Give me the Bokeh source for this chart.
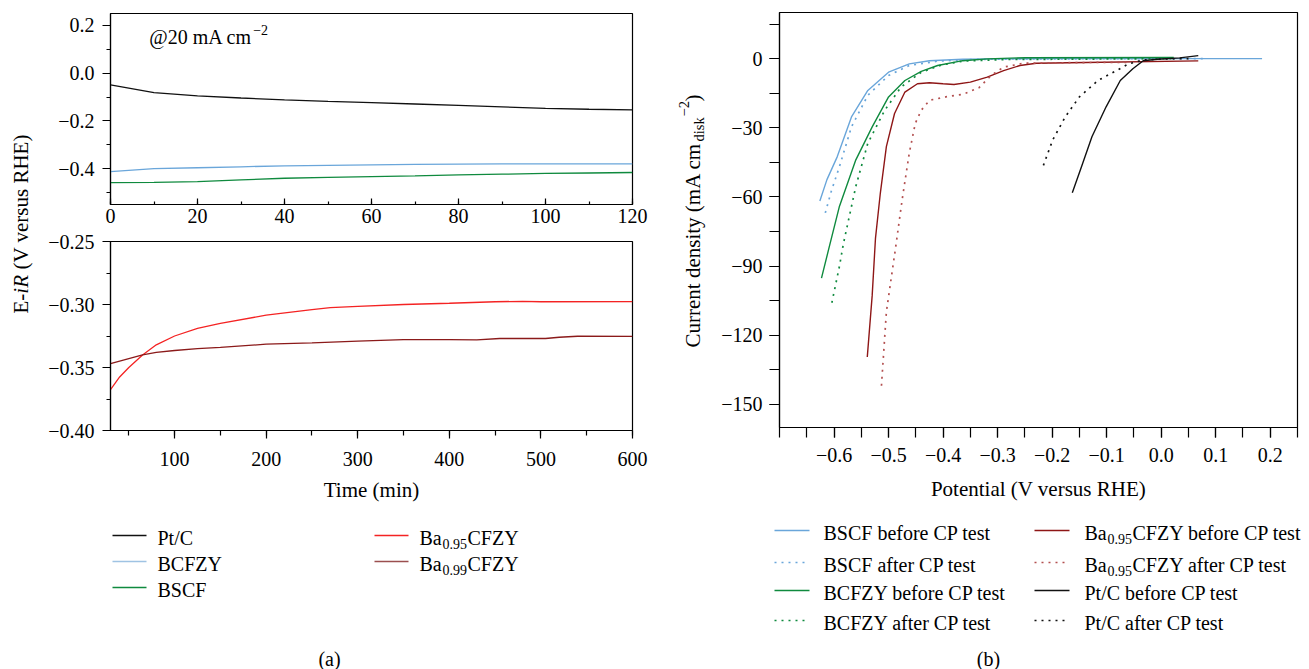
import math
from bokeh.plotting import figure
from bokeh.models import Range1d, FixedTicker, CustomJSTickFormatter
from bokeh.layouts import column, row
from bokeh.embed import file_html
from bokeh.resources import INLINE
from bokeh.core.properties import value

FONT = "Liberation Serif"

# ---------------- Panel (a), top: 0-120 min ----------------
t_short = [0, 10, 20, 30, 40, 50, 60, 70, 80, 90, 100, 110, 120]
ptc_short = [-0.049, -0.081, -0.095, -0.104, -0.112, -0.118, -0.123, -0.129, -0.135, -0.141, -0.147, -0.151, -0.154]
bcfzy_short = [-0.412, -0.400, -0.396, -0.392, -0.388, -0.386, -0.384, -0.382, -0.381, -0.380, -0.380, -0.380, -0.380]
bscf_short = [-0.458, -0.457, -0.454, -0.447, -0.440, -0.436, -0.433, -0.430, -0.426, -0.423, -0.420, -0.418, -0.416]

# ---------------- Panel (a), bottom: 30-600 min ----------------
t_ba95 = [30, 40, 50, 65, 80, 100, 125, 150, 200, 250, 270, 300, 350, 400, 450, 480, 500, 600]
ba95 = [-0.3675, -0.3575, -0.3500, -0.3400, -0.3320, -0.3250, -0.3190, -0.3150, -0.3085, -0.3040,
        -0.3025, -0.3015, -0.3000, -0.2990, -0.2978, -0.2975, -0.2978, -0.2977]
t_ba99 = [30, 50, 65, 80, 100, 125, 150, 200, 250, 300, 350, 400, 430, 455, 505, 520, 540, 600]
ba99 = [-0.3470, -0.3430, -0.3400, -0.3380, -0.3365, -0.3350, -0.3340, -0.3315, -0.3305, -0.3290,
        -0.3278, -0.3279, -0.3281, -0.3270, -0.3270, -0.3260, -0.3252, -0.3253]

# ---------------- Panel (b): LSV curves ----------------
bscf_b_v = [-0.626, -0.613, -0.594, -0.568, -0.538, -0.500, -0.462, -0.425, -0.364, -0.300, -0.200, 0.000, 0.185]
bscf_b_j = [-61.8, -52.5, -42.5, -25.3, -13.8, -5.9, -2.3, -0.9, -0.3, -0.1, 0.0, 0.0, 0.0]
bscf_a_v = [-0.616, -0.605, -0.590, -0.568, -0.538, -0.500, -0.462, -0.410, -0.350, -0.250, 0.080]
bscf_a_j = [-66.9, -57.5, -46.8, -29.6, -15.9, -7.3, -3.0, -1.1, -0.4, -0.1, 0.0]
bcfzy_b_v = [-0.623, -0.609, -0.590, -0.560, -0.530, -0.500, -0.470, -0.440, -0.410, -0.364, -0.319, -0.250, 0.023]
bcfzy_b_j = [-95.2, -81.9, -64.0, -43.9, -29.6, -16.6, -9.5, -5.5, -3.0, -0.9, -0.1, 0.4, 0.5]
bcfzy_a_v = [-0.604, -0.590, -0.583, -0.560, -0.538, -0.507, -0.477, -0.440, -0.402, -0.364, -0.289, 0.020]
bcfzy_a_j = [-105.9, -90.0, -80.5, -55.4, -36.7, -22.4, -12.3, -5.9, -2.7, -1.1, -0.4, 0.0]
ba95_b_v = [-0.539, -0.530, -0.524, -0.515, -0.504, -0.489, -0.470, -0.447, -0.425, -0.400, -0.380,
            -0.350, -0.319, -0.289, -0.259, -0.229, -0.139, 0.068]
ba95_b_j = [-129.4, -102.7, -78.0, -58.2, -38.2, -23.8, -14.5, -10.9, -10.5, -10.9, -11.2,
            -10.2, -8.0, -5.2, -3.0, -2.0, -1.7, -1.0]
ba95_a_v = [-0.513, -0.504, -0.487, -0.475, -0.462, -0.451, -0.440, -0.425, -0.395, -0.364, -0.334,
            -0.312, -0.289, -0.252, -0.139, -0.064]
ba95_a_j = [-141.9, -109.9, -81.9, -61.1, -41.0, -28.1, -22.4, -18.1, -16.6, -15.5, -12.6,
            -7.3, -3.7, -2.0, -1.7, -1.6]
ptc_b_v = [-0.163, -0.146, -0.127, -0.101, -0.075, -0.052, -0.033, -0.007, 0.034, 0.068]
ptc_b_j = [-58.2, -46.8, -33.9, -20.9, -9.5, -4.4, -0.9, -0.3, 0.3, 1.3]
ptc_a_v = [-0.216, -0.199, -0.176, -0.150, -0.116, -0.082, -0.060, -0.033, 0.012, 0.050]
ptc_a_j = [-46.3, -35.3, -25.3, -16.6, -9.5, -5.2, -2.3, -0.6, -0.1, 0.0]

# tick values
a_top_xticks = [0, 20, 40, 60, 80, 100, 120]
a_top_yticks = [-0.4, -0.2, 0.0, 0.2]
a_bot_xticks = [100, 200, 300, 400, 500, 600]
a_bot_yticks = [-0.40, -0.35, -0.30, -0.25]
b_xticks = [-0.6, -0.5, -0.4, -0.3, -0.2, -0.1, 0.0, 0.1, 0.2]
b_yticks = [-150, -120, -90, -60, -30, 0]

# colours
BLACK = "#111111"
BLUE = "#6aa6da"
GREEN = "#0f8a3e"
RED = "#f42323"
DRED = "#8b1a1a"
RP_BEFORE = "#8e1616"
RP_AFTER = "#b35050"
DOT = "2 5"

TICK_PX = "20px"
LAB_PX = "21px"
ROT = math.pi / 2


def fmt(decimals):
    return CustomJSTickFormatter(code="""
        const s = Math.abs(tick).toFixed(%d);
        return (tick < -1e-12 ? '\\u2212' : '') + s;
    """ % decimals)


def base_fig(w, h, xr, yr, bl, br, bt, bb):
    p = figure(width=w, height=h, x_range=Range1d(*xr), y_range=Range1d(*yr),
               output_backend="svg", toolbar_location=None,
               min_border_left=bl, min_border_right=br, min_border_top=bt, min_border_bottom=bb)
    p.grid.visible = False
    p.outline_line_color = "black"
    p.outline_line_width = 1.2
    p.background_fill_color = "white"
    p.border_fill_color = "white"
    for ax in p.axis:
        ax.axis_line_color = "black"
        ax.axis_line_width = 1.2
        ax.major_tick_line_color = "black"
        ax.minor_tick_line_color = "black"
        ax.major_tick_line_width = 1.2
        ax.minor_tick_line_width = 1.2
        ax.major_label_text_font = FONT
        ax.major_label_text_font_size = TICK_PX
        ax.major_label_text_color = "black"
        ax.axis_label_text_font = FONT
        ax.axis_label_text_font_size = LAB_PX
        ax.axis_label_text_font_style = "normal"
        ax.axis_label_text_color = "black"
    return p


def blank_fig(w, h, xr, yr, bt=0, bb=0):
    p = figure(width=w, height=h, x_range=Range1d(*xr), y_range=Range1d(*yr),
               output_backend="svg", toolbar_location=None,
               min_border_left=0, min_border_right=0, min_border_top=bt, min_border_bottom=bb)
    p.axis.visible = False
    p.grid.visible = False
    p.outline_line_color = None
    p.background_fill_color = "white"
    p.border_fill_color = "white"
    return p


def txt(p, x, y, s, size="20px", style="normal", align="left", baseline="middle", angle=0.0):
    p.text(x=[x], y=[y], text=[s], text_font=value(FONT), text_font_size=size,
           text_font_style=style, text_align=align, text_baseline=baseline,
           text_color="black", angle=angle)


def seg(p, x0, x1, y, color, dash=None):
    kw = dict(line_color=color, line_width=1.7)
    if dash:
        kw["line_dash"] = dash
    p.line([x0, x1], [y, y], **kw)


# ================= (a) top =================
tl = base_fig(618, 230, (0, 120), (-0.55, 0.25), 70, 26, 13, 26)
tl.xaxis.ticker = FixedTicker(ticks=a_top_xticks, minor_ticks=list(range(0, 121, 10)))
tl.yaxis.ticker = FixedTicker(ticks=a_top_yticks, minor_ticks=[-0.5, -0.4, -0.3, -0.2, -0.1, 0.0, 0.1, 0.2])
tl.xaxis.formatter = fmt(0)
tl.yaxis.formatter = fmt(1)
tl.xaxis.major_tick_in = 6
tl.xaxis.major_tick_out = 0
tl.xaxis.minor_tick_in = 3
tl.xaxis.minor_tick_out = 0
tl.xaxis.major_label_standoff = 4
tl.yaxis.major_tick_in = 0
tl.yaxis.major_tick_out = 8
tl.yaxis.minor_tick_in = 0
tl.yaxis.minor_tick_out = 4
tl.yaxis.major_label_standoff = 8
tl.line(t_short, ptc_short, line_color=BLACK, line_width=1.3)
tl.line(t_short, bcfzy_short, line_color=BLUE, line_width=1.3)
tl.line(t_short, bscf_short, line_color=GREEN, line_width=1.3)
tl.text(x=[8.9], y=[0.150], text=["@20 mA cm"], text_font=value(FONT), text_font_size="20px",
        text_align="left", text_baseline="middle", text_color="black")
tl.text(x=[8.9], y=[0.150], text=["\u22122"], text_font=value(FONT), text_font_size="14px",
        text_align="left", text_baseline="middle", text_color="black", x_offset=104, y_offset=-7)

# ================= (a) bottom =================
bl = base_fig(618, 280, (30, 600), (-0.40, -0.25), 70, 26, 11, 80)
bl.xaxis.ticker = FixedTicker(ticks=a_bot_xticks, minor_ticks=list(range(50, 601, 50)))
bl.yaxis.ticker = FixedTicker(ticks=a_bot_yticks, minor_ticks=[-0.4, -0.375, -0.35, -0.325, -0.3, -0.275, -0.25])
bl.xaxis.formatter = fmt(0)
bl.yaxis.formatter = fmt(2)
bl.xaxis.major_tick_in = 0
bl.xaxis.major_tick_out = 8
bl.xaxis.minor_tick_in = 0
bl.xaxis.minor_tick_out = 5
bl.xaxis.major_label_standoff = 13
bl.yaxis.major_tick_in = 0
bl.yaxis.major_tick_out = 8
bl.yaxis.minor_tick_in = 0
bl.yaxis.minor_tick_out = 4
bl.yaxis.major_label_standoff = 8
bl.xaxis.axis_label = "Time (min)"
bl.xaxis.axis_label_standoff = 9
bl.line(t_ba95, ba95, line_color=RED, line_width=1.3)
bl.line(t_ba99, ba99, line_color=DRED, line_width=1.3)

# ================= (a) y label (data y = -page y) =================
ylab = blank_fig(40, 510, (0, 40), (-510, 0))
txt(ylab, 20, -313, "E-", size=LAB_PX, angle=ROT)
txt(ylab, 20, -313 + 19.8, "iR", size=LAB_PX, style="italic", angle=ROT)
txt(ylab, 20, -313 + 44.0, "(V versus RHE)", size=LAB_PX, angle=ROT)

# ================= (a) legend (data = page pixels) =================
lega = blank_fig(658, 159, (0, 658), (669, 510))
for name, c, y in [("Pt/C", BLACK, 535), ("BCFZY", "#9fc3e3", 561), ("BSCF", GREEN, 587)]:
    seg(lega, 112, 146, y, c)
    txt(lega, 157, y + 2, name)
for sub, c, y in [("0.95", RED, 535), ("0.99", "#9b4f4f", 561)]:
    seg(lega, 374, 408, y, c)
    txt(lega, 419, y + 2, "Ba")
    txt(lega, 419 + 23, y + 8, sub, size="14px")
    txt(lega, 419 + 48, y + 2, "CFZY")
txt(lega, 329, 658, "(a)", align="center")

# ================= (b) main =================
rp = base_fig(591, 507, (-0.7, 0.25), (-160, 20), 58, 12, 12, 80)
rp.xaxis.ticker = FixedTicker(ticks=b_xticks, minor_ticks=[round(-0.7 + 0.05 * i, 2) for i in range(20)])
rp.yaxis.ticker = FixedTicker(ticks=b_yticks, minor_ticks=list(range(-150, 16, 15)))
rp.xaxis.formatter = fmt(1)
rp.yaxis.formatter = fmt(0)
for ax in (rp.xaxis[0], rp.yaxis[0]):
    ax.major_tick_in = 0
    ax.major_tick_out = 10
    ax.minor_tick_in = 0
    ax.minor_tick_out = 10
rp.xaxis.major_label_standoff = 10
rp.yaxis.major_label_standoff = 7
rp.xaxis.axis_label = "Potential (V versus RHE)"
rp.xaxis.axis_label_standoff = 12
rp.line(bscf_b_v, bscf_b_j, line_color=BLUE, line_width=1.4)
rp.line(bscf_a_v, bscf_a_j, line_color=BLUE, line_width=1.7, line_dash=DOT)
rp.line(bcfzy_b_v, bcfzy_b_j, line_color=GREEN, line_width=1.4)
rp.line(bcfzy_a_v, bcfzy_a_j, line_color=GREEN, line_width=1.7, line_dash=DOT)
rp.line(ba95_b_v, ba95_b_j, line_color=RP_BEFORE, line_width=1.4)
rp.line(ba95_a_v, ba95_a_j, line_color=RP_AFTER, line_width=1.7, line_dash=DOT)
rp.line(ptc_b_v, ptc_b_j, line_color=BLACK, line_width=1.4)
rp.line(ptc_a_v, ptc_a_j, line_color=BLACK, line_width=1.7, line_dash=DOT)

# ================= (b) y label: frame aligned with rp (page y 12..427) =================
rlab = blank_fig(60, 507, (658, 718), (-427, -12), bt=12, bb=80)
txt(rlab, 692, -347, "Current density (mA cm", size=LAB_PX, angle=ROT)
txt(rlab, 698, -141, "disk", size="14.5px", angle=ROT)
txt(rlab, 683, -116, "\u22122", size="14.5px", angle=ROT)
txt(rlab, 692, -101, ")", size=LAB_PX, angle=ROT)

# ================= (b) legend (data = page pixels) =================
legb = blank_fig(651, 162, (658, 1309), (669, 507))
col1 = [("BSCF before CP test", BLUE, None, 530), ("BSCF after CP test", BLUE, DOT, 562),
        ("BCFZY before CP test", GREEN, None, 590), ("BCFZY after CP test", GREEN, DOT, 620)]
for name, c, d, y in col1:
    seg(legb, 774, 809, y, c, d)
    txt(legb, 823, y + 2, name)
for rest, c, d, y in [(" before CP test", RP_BEFORE, None, 530), (" after CP test", RP_AFTER, DOT, 562)]:
    seg(legb, 1034, 1069, y, c, d)
    txt(legb, 1084, y + 2, "Ba")
    txt(legb, 1084 + 23, y + 8, "0.95", size="14px")
    txt(legb, 1084 + 48, y + 2, "CFZY" + rest)
for name, c, d, y in [("Pt/C before CP test", BLACK, None, 590), ("Pt/C after CP test", BLACK, DOT, 620)]:
    seg(legb, 1034, 1069, y, c, d)
    txt(legb, 1084, y + 2, name)
txt(legb, 988, 658, "(b)", align="center")

left = column(row(ylab, column(tl, bl)), lega)
right = column(row(rlab, rp), legb)
layout = row(left, right)

open("out.html", "w").write(file_html(layout, INLINE))
